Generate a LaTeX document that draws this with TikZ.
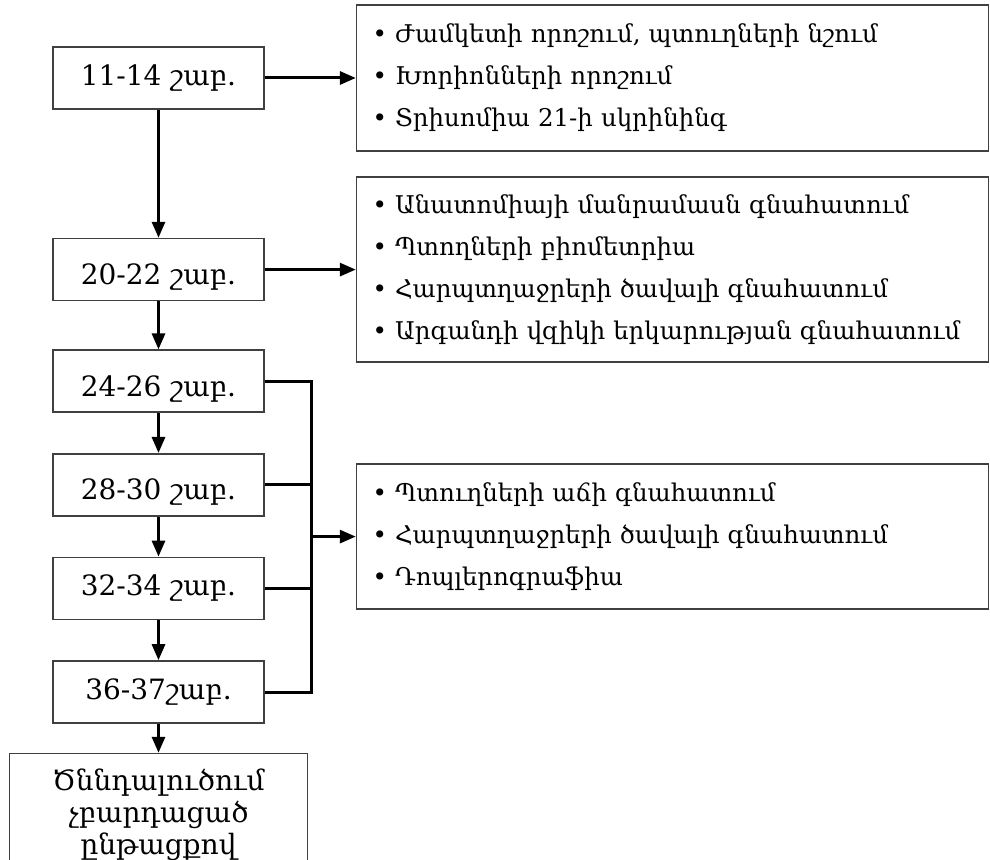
\documentclass[tikz,border=0pt]{standalone}
\usepackage{fontspec}
\setmainfont{DejaVu Serif}
\usepackage{tikz}
\usetikzlibrary{arrows.meta, positioning, calc}
\definecolor{boxline}{HTML}{404040}

\begin{document}
\begin{tikzpicture}[
   >={Triangle[length=8pt, width=6.5pt]}, node distance = 20pt and 45.5pt,
   stage/.style = {rectangle, draw=boxline, line width=0.8pt, fill=white,
                   minimum width=105.5pt, minimum height=31pt, align=center,
                   font=\fontsize{14}{16}\selectfont},
   low/.style   = {text height=15pt, text depth=0pt},
   info/.style  = {rectangle, draw=boxline, line width=0.8pt, fill=white,
                   text width=300pt, inner xsep=8pt, align=left,
                   font=\fontsize{12.2}{21}\selectfont},
   flow/.style  = {->, line width=1.5pt}]
  \useasboundingbox (0,0) rectangle (495pt,-430pt);
  % weeks column
  \node[stage] (w11) at (79.25pt,-39pt) {11-14 շաբ.};
  \node[stage, low, below=64pt of w11] (w20) {20-22 շաբ.};
  \node[stage, low, below=24pt of w20] (w24) {24-26 շաբ.};
  \node[stage, low, below=of w24] (w28) {28-30 շաբ.};
  \node[stage, below=of w28] (w32) {32-34 շաբ.};
  \node[stage, below=of w32] (w36) {36-37շաբ.};
  \node[stage, minimum width=149pt, minimum height=61pt, below=14.5pt of w36] (birth)
       {Ծննդալուծում\\չբարդացած\\ընթացքով};

  % what is checked
  \node[info, minimum height=73pt, right=of w11] (scan1)
       {• Ժամկետի որոշում, պտուղների նշում\\• Խորիոնների որոշում\\• Տրիսոմիա 21-ի սկրինինգ};
  \node[info, minimum height=92.5pt, right=of w20] (scan2)
       {• Անատոմիայի մանրամասն գնահատում\\• Պտողների բիոմետրիա\\• Հարպտղաջրերի ծավալի գնահատում\\• Արգանդի վզիկի երկարության գնահատում};

  \coordinate (bus) at ($(w24.east)+(23.5pt,0)$);
  \coordinate (mid) at ($(w28.east)!0.5!(w32.east)$);
  \coordinate (join) at (mid -| bus);
  \node[info, minimum height=72.5pt, right=22pt of join] (scan3)
       {• Պտուղների աճի գնահատում\\• Հարպտղաջրերի ծավալի գնահատում\\• Դոպլերոգրաֆիա};

  \draw[flow] (w11) -- (w20);
  \draw[flow] (w20) -- (w24);
  \draw[flow] (w24) -- (w28);
  \draw[flow] (w28) -- (w32);
  \draw[flow] (w32) -- (w36);
  \draw[flow] (w36) -- (birth);
  \draw[flow] (w11) -- (scan1);
  \draw[flow] (w20) -- (scan2);

  \draw[line width=1.5pt] (w24.east) -- (bus) |- (w36.east);
  \draw[line width=1.5pt] (w28.east) -- (w28.east -| bus);
  \draw[line width=1.5pt] (w32.east) -- (w32.east -| bus);
  \draw[flow] (join) -- (scan3);
\end{tikzpicture}
\end{document}
